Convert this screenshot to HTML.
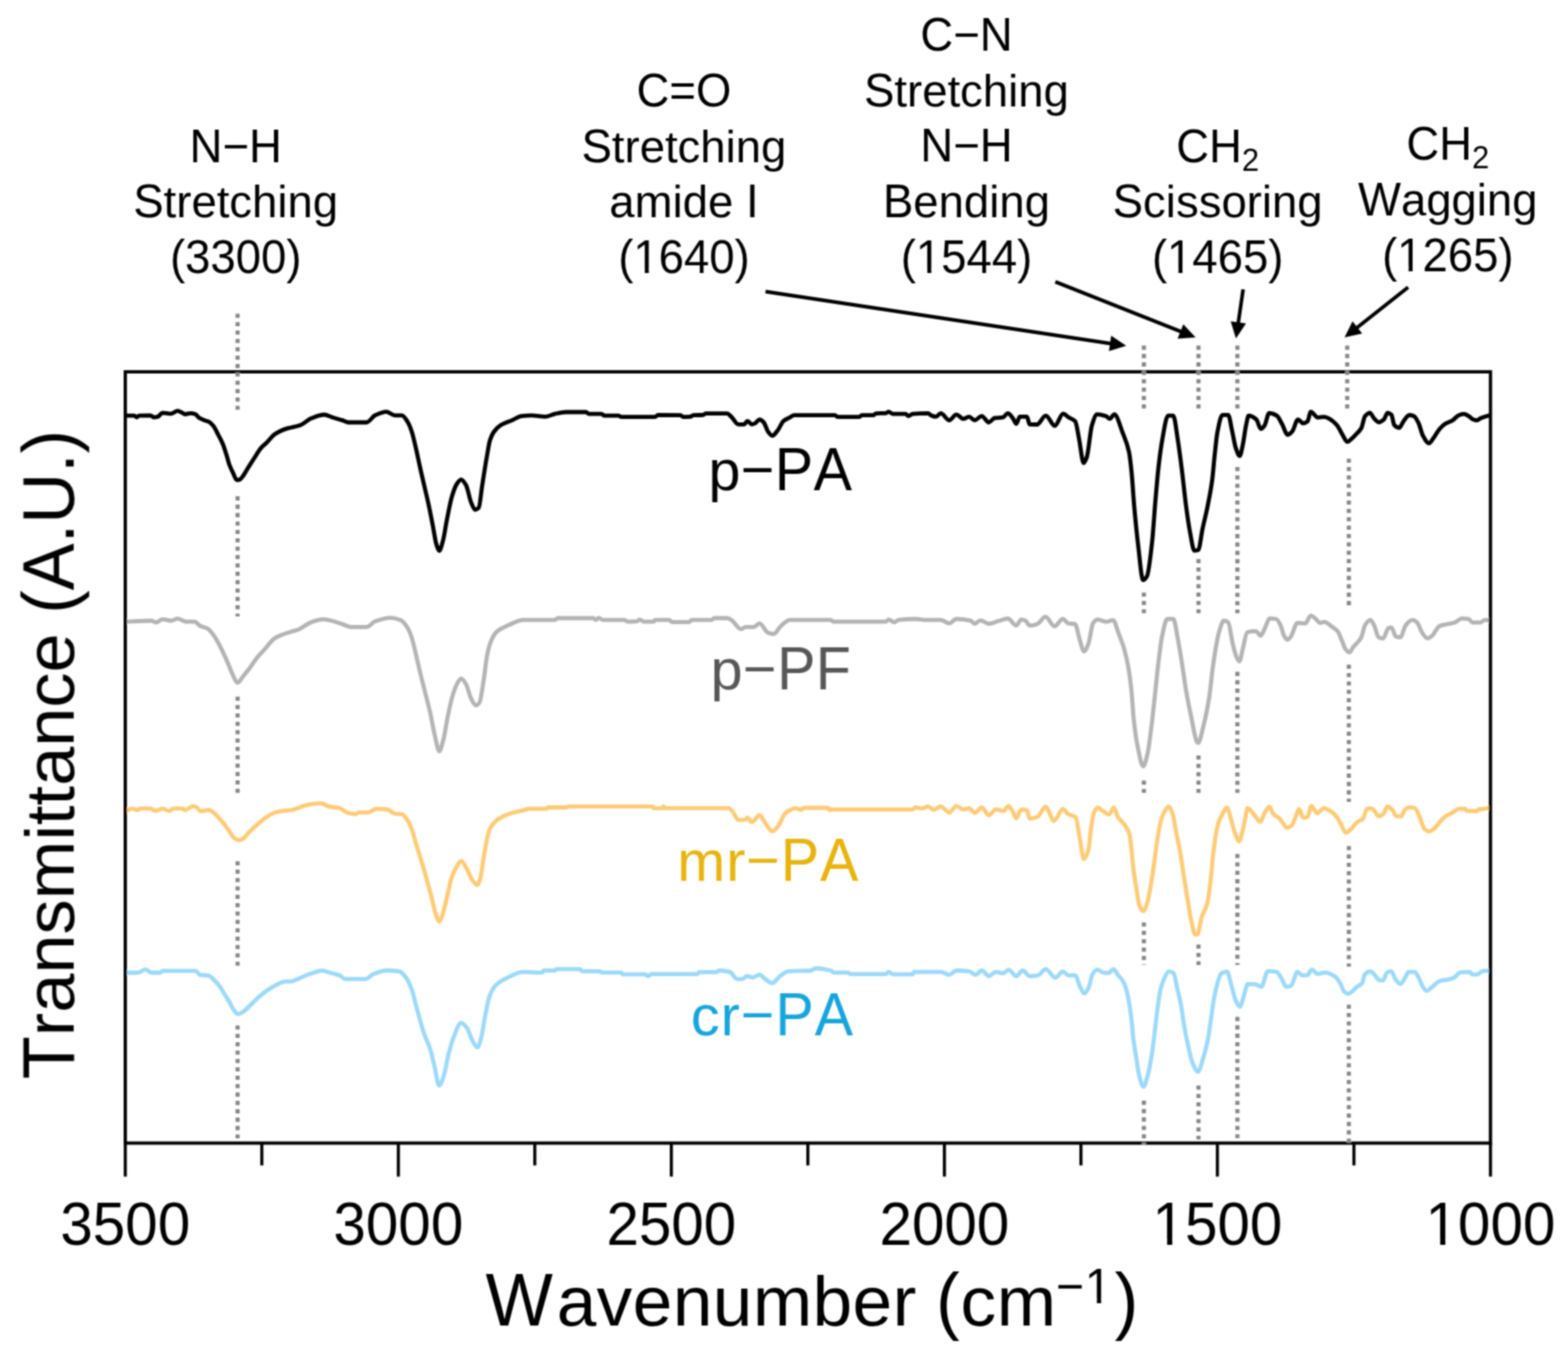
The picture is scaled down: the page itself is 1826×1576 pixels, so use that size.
<!DOCTYPE html>
<html><head><meta charset="utf-8"><title>FTIR spectra</title>
<style>html,body{margin:0;padding:0;background:#fff;}body{width:1826px;height:1576px;overflow:hidden;}svg{display:block;}text{font-family:'Liberation Sans', Arial, sans-serif;font-kerning:none;font-feature-settings:"kern" 0;}</style>
</head><body>
<svg width="1826" height="1576" viewBox="0 0 1826 1576">
<defs><filter id="soft" x="0" y="0" width="100%" height="100%" filterUnits="userSpaceOnUse"><feConvolveMatrix order="5 1" kernelMatrix="1 8 16 8 1" divisor="34" edgeMode="duplicate" result="b1"/><feConvolveMatrix in="b1" order="1 5" kernelMatrix="1 8 16 8 1" divisor="34" edgeMode="duplicate"/></filter></defs>
<rect x="0" y="0" width="1826" height="1576" fill="#fff"/>
<g filter="url(#soft)">
<path d="M146.6,484.1C149.9,484.1 153.1,484.1 156.4,484.1C157.3,484.1 158.3,486.1 159.2,486.1C160.1,486.1 161.0,484.1 161.9,484.1C166.3,483.9 170.6,483.9 175.0,483.9C176.5,483.9 177.9,486.1 179.4,486.1C180.9,486.1 182.3,485.8 183.8,485.4C185.6,484.9 187.5,480.8 189.3,480.8C192.6,480.8 195.8,481.9 199.1,481.9C201.7,481.9 204.2,478.6 206.8,478.6C208.3,478.6 209.7,479.7 211.2,480.3C212.7,480.9 214.1,482.5 215.6,482.5C217.8,482.5 219.9,481.4 222.1,481.4C223.9,481.4 225.8,481.9 227.6,482.5C229.1,483.0 230.5,485.9 232.0,486.8C234.2,488.2 236.4,489.0 238.6,489.8C240.1,490.3 241.5,490.5 243.0,491.2C244.8,492.0 246.6,493.9 248.4,496.1C250.2,498.3 252.1,502.5 253.9,506.0C255.7,509.5 257.6,512.6 259.4,517.0C260.9,520.5 262.3,525.4 263.8,530.1C264.9,533.5 265.9,538.1 267.0,541.0C268.5,545.0 269.9,547.9 271.4,550.9C272.9,553.9 274.3,559.1 275.8,559.1C276.9,559.1 278.0,558.9 279.1,558.6C280.2,558.3 281.3,556.6 282.4,555.3C284.2,553.1 286.1,549.4 287.9,546.5C290.4,542.5 293.0,538.4 295.5,534.5C298.4,530.0 301.4,524.6 304.3,521.3C306.5,518.8 308.7,517.5 310.9,515.3C313.8,512.5 316.7,508.1 319.6,506.0C321.8,504.4 324.0,503.2 326.2,502.2C329.1,500.9 332.1,499.8 335.0,498.9C339.9,497.4 344.8,497.0 349.7,495.3C354.1,493.7 358.5,488.8 362.9,487.1C367.8,485.2 372.7,483.0 377.6,483.0C380.9,483.0 384.2,485.3 387.5,486.3C391.3,487.5 395.2,488.4 399.0,489.6C401.2,490.3 403.4,492.0 405.6,492.0C412.7,492.0 419.8,492.0 426.9,492.0C430.2,492.0 433.5,485.3 436.8,483.8C441.2,481.8 445.5,479.7 449.9,479.7C453.2,479.7 456.5,483.8 459.8,483.8C462.5,483.8 465.3,483.8 468.0,483.8C470.2,483.8 472.4,487.8 474.6,491.2C476.2,493.7 477.9,497.9 479.5,502.7C481.1,507.5 482.8,515.4 484.4,522.4C486.1,529.5 487.7,537.9 489.4,545.4C491.0,552.7 492.7,559.7 494.3,566.8C495.9,573.9 497.6,580.5 499.2,588.1C500.8,595.7 502.5,604.4 504.1,612.8C505.5,619.8 506.8,629.9 508.2,634.1C509.3,637.5 510.4,641.5 511.5,641.5C512.9,641.5 514.2,635.6 515.6,630.9C517.3,625.2 518.9,612.8 520.6,604.6C522.5,595.2 524.4,584.5 526.3,578.3C528.2,571.9 530.2,566.2 532.1,563.5C533.7,561.2 535.4,558.6 537.0,558.6C538.9,558.6 540.8,561.9 542.7,565.1C544.6,568.4 546.6,580.3 548.5,584.9C550.1,588.8 551.8,593.9 553.4,593.9C554.8,593.9 556.1,592.9 557.5,591.4C558.9,589.9 560.2,573.7 561.6,565.1C563.3,554.6 564.9,543.3 566.6,533.9C568.0,526.2 569.3,516.9 570.7,512.6C572.1,508.3 573.4,505.5 574.8,503.5C577.5,499.6 580.3,497.0 583.0,495.3C587.4,492.6 591.7,491.5 596.1,489.6C599.9,487.9 603.8,485.1 607.6,484.6C611.4,484.1 615.3,483.8 619.1,483.8C624.3,483.8 629.6,485.4 634.8,485.4C638.6,485.4 642.5,482.9 646.3,482.1C650.7,481.2 655.0,480.0 659.4,480.0C667.1,480.0 674.7,480.0 682.4,480.0C683.5,480.0 684.6,482.1 685.7,482.1C690.6,482.1 695.6,482.1 700.5,482.1C701.6,482.1 702.7,484.1 703.8,484.1C709.3,484.1 714.7,484.1 720.2,484.1C721.3,484.1 722.4,485.7 723.5,485.7C736.6,485.7 749.8,485.7 762.9,485.7C764.0,485.7 765.1,483.3 766.2,483.3C775.0,483.3 783.7,483.4 792.5,483.7C793.6,483.7 794.7,485.7 795.8,485.7C798.5,485.7 801.3,485.6 804.0,485.4C805.1,485.3 806.2,483.8 807.3,483.7C811.1,483.4 815.0,483.6 818.8,483.3C819.9,483.2 821.0,481.6 822.1,481.6C830.3,481.6 838.5,481.6 846.7,481.6C848.3,481.6 850.0,483.9 851.6,485.4C854.4,487.9 857.1,494.4 859.9,494.4C862.1,494.4 864.2,494.4 866.4,494.4C867.8,494.4 869.1,490.3 870.5,490.3C872.2,490.3 873.8,494.4 875.5,494.4C876.9,494.4 878.2,493.5 879.6,492.8C881.2,491.9 882.9,488.7 884.5,488.7C886.1,488.7 887.8,490.3 889.4,492.0C891.0,493.7 892.7,500.4 894.3,502.6C896.0,504.9 897.6,507.6 899.3,507.6C901.5,507.6 903.7,503.7 905.9,501.0C908.1,498.3 910.2,492.1 912.4,490.3C914.9,488.2 917.4,487.5 919.9,486.2C921.5,485.3 923.2,483.7 924.8,483.7C940.7,483.7 956.5,483.7 972.4,483.7C973.5,483.7 974.6,485.7 975.7,485.7C983.9,485.7 992.2,485.7 1000.4,485.7C1001.5,485.7 1002.5,483.7 1003.6,483.7C1008.0,483.7 1012.4,483.7 1016.8,483.7C1017.9,483.7 1019.0,481.7 1020.1,481.6C1023.9,481.4 1027.8,481.5 1031.6,481.3C1032.7,481.2 1033.8,479.6 1034.9,479.6C1036.5,479.6 1038.2,482.1 1039.8,482.1C1044.7,482.1 1049.7,482.1 1054.6,482.1C1055.7,482.1 1056.8,484.6 1057.9,484.6C1059.5,484.6 1061.2,482.3 1062.8,482.1C1068.8,481.5 1074.9,481.3 1080.9,481.3C1082.0,481.3 1083.0,483.2 1084.1,483.7C1086.0,484.6 1088.0,485.4 1089.9,485.4C1091.8,485.4 1093.7,481.3 1095.6,481.3C1098.9,481.3 1102.2,489.5 1105.5,489.5C1108.2,489.5 1111.0,482.9 1113.7,482.9C1116.4,482.9 1119.2,487.9 1121.9,487.9C1124.1,487.9 1126.3,485.4 1128.5,485.4C1130.7,485.4 1132.9,489.5 1135.1,489.5C1137.8,489.5 1140.6,484.6 1143.3,484.6C1146.0,484.6 1148.8,492.0 1151.5,492.0C1153.7,492.0 1155.9,487.3 1158.1,487.0C1161.4,486.5 1164.6,486.7 1167.9,486.2C1169.8,485.9 1171.8,481.3 1173.7,481.3C1175.6,481.3 1177.5,484.6 1179.4,487.0C1180.8,488.7 1182.1,493.6 1183.5,493.6C1184.9,493.6 1186.2,485.4 1187.6,485.4C1190.4,485.4 1193.1,485.4 1195.9,485.4C1197.0,485.4 1198.0,494.4 1199.1,494.4C1201.9,494.5 1204.7,494.5 1207.5,494.5C1211.0,494.5 1214.4,484.1 1217.9,484.1C1221.4,484.1 1224.8,496.0 1228.3,496.0C1231.5,496.0 1234.8,481.8 1238.0,481.8C1240.2,481.8 1242.5,484.9 1244.7,486.3C1247.2,487.9 1249.7,488.0 1252.2,490.8C1253.7,492.5 1255.2,504.3 1256.7,511.7C1258.4,520.3 1260.2,539.3 1261.9,539.3C1263.1,539.3 1264.4,535.9 1265.6,532.6C1267.6,527.2 1269.6,501.6 1271.6,495.3C1273.6,489.0 1275.6,482.6 1277.6,482.6C1281.1,482.6 1284.5,483.6 1288.0,484.8C1289.5,485.3 1291.0,487.8 1292.5,487.8C1294.2,487.8 1296.0,482.6 1297.7,482.6C1300.9,482.6 1304.2,495.8 1307.4,504.2C1309.9,510.6 1312.3,515.0 1314.8,526.6C1315.8,531.3 1316.8,540.6 1317.8,550.5C1318.8,560.4 1319.8,577.9 1320.8,589.2C1322.3,606.2 1323.8,621.5 1325.3,634.0C1327.3,650.4 1329.2,675.7 1331.2,675.7C1332.7,675.7 1334.2,673.8 1335.7,671.3C1337.7,668.0 1339.7,648.9 1341.7,631.0C1342.9,620.0 1344.2,599.1 1345.4,584.8C1346.6,570.5 1347.9,555.3 1349.1,544.5C1350.6,531.3 1352.1,519.7 1353.6,511.7C1355.8,499.7 1358.1,484.1 1360.3,484.1C1362.3,484.1 1364.3,484.1 1366.3,484.1C1368.0,484.1 1369.8,500.9 1371.5,511.7C1373.2,522.5 1375.0,536.6 1376.7,550.5C1378.2,562.5 1379.7,578.0 1381.2,589.2C1382.7,600.4 1384.2,611.2 1385.7,619.1C1387.4,628.2 1389.2,641.4 1390.9,641.4C1392.4,641.4 1393.9,641.1 1395.4,640.7C1397.1,640.2 1398.7,623.9 1400.4,616.1C1402.4,606.7 1404.4,599.3 1406.4,589.2C1408.1,580.5 1409.9,572.3 1411.6,559.4C1412.6,552.0 1413.6,538.7 1414.6,529.6C1415.6,520.5 1416.6,509.4 1417.6,504.2C1419.6,493.8 1421.6,483.3 1423.6,483.3C1425.8,483.3 1428.1,483.3 1430.3,483.3C1431.8,483.3 1433.2,494.8 1434.7,501.2C1436.2,507.7 1437.7,517.9 1439.2,522.1C1440.7,526.3 1442.2,531.1 1443.7,531.1C1444.9,531.1 1446.2,523.2 1447.4,517.6C1448.6,512.0 1449.9,500.9 1451.1,495.3C1452.1,490.7 1453.1,484.1 1454.1,484.1C1457.1,484.1 1460.1,486.0 1463.1,488.6C1464.8,490.1 1466.6,499.7 1468.3,499.7C1469.8,499.7 1471.3,497.4 1472.8,495.3C1474.5,492.8 1476.3,481.1 1478.0,481.1C1481.0,481.1 1483.9,482.4 1486.9,484.1C1488.9,485.3 1490.9,490.3 1492.9,493.8C1495.1,497.7 1497.4,506.5 1499.6,506.5C1501.3,506.5 1503.1,504.5 1504.8,502.7C1507.1,500.3 1509.3,488.6 1511.6,488.6C1513.6,488.6 1515.5,493.0 1517.5,493.0C1519.2,493.0 1521.0,492.1 1522.7,490.8C1524.0,489.8 1525.2,479.6 1526.5,479.6C1529.2,479.6 1532.0,486.3 1534.7,486.3C1537.2,486.3 1539.6,485.6 1542.1,485.6C1544.1,485.6 1546.1,486.8 1548.1,487.8C1551.1,489.3 1554.0,491.9 1557.0,495.3C1559.0,497.6 1561.0,502.5 1563.0,505.7C1565.0,508.9 1567.0,514.7 1569.0,514.7C1570.5,514.7 1571.9,512.9 1573.4,511.7C1575.6,509.9 1577.8,507.4 1580.0,505.0C1581.8,503.1 1583.5,501.9 1585.3,498.8C1586.7,496.3 1588.2,486.5 1589.6,484.8C1591.5,482.6 1593.4,480.9 1595.3,480.9C1596.9,480.9 1598.6,485.8 1600.2,487.4C1602.1,489.3 1604.0,491.8 1605.9,491.8C1607.8,491.8 1609.7,490.3 1611.6,488.7C1613.0,487.5 1614.5,480.9 1615.9,480.9C1617.4,480.9 1618.8,481.7 1620.3,483.0C1621.5,484.0 1622.6,494.1 1623.8,495.3C1625.7,497.2 1627.6,498.4 1629.5,498.4C1631.1,498.4 1632.7,492.9 1634.3,490.9C1636.6,487.9 1639.0,483.5 1641.3,483.5C1643.1,483.5 1644.8,484.1 1646.6,484.8C1648.4,485.5 1650.1,489.2 1651.9,492.7C1653.6,496.1 1655.4,504.5 1657.1,507.6C1659.4,511.8 1661.8,516.4 1664.1,516.4C1665.9,516.4 1667.6,512.5 1669.4,510.2C1671.7,507.2 1674.1,502.4 1676.4,499.7C1678.4,497.4 1680.5,495.3 1682.5,494.0C1685.7,491.9 1689.0,491.3 1692.2,489.2C1694.2,487.9 1696.3,484.7 1698.3,483.9C1700.4,483.0 1702.4,482.2 1704.5,482.2C1706.5,482.2 1708.6,483.7 1710.6,484.8C1712.1,485.6 1713.5,487.7 1715.0,488.3C1716.5,488.9 1717.9,489.6 1719.4,489.6C1721.1,489.6 1722.9,487.7 1724.6,487.0C1727.9,485.7 1731.2,484.8 1734.5,483.7" fill="none" stroke="#000" stroke-width="4.8" stroke-linejoin="round" stroke-linecap="round"/>
<path d="M146.6,724.1C151.3,723.9 156.1,723.7 160.8,723.5C165.9,723.3 171.0,723.0 176.1,723.0C177.9,723.0 179.8,725.0 181.6,725.0C184.2,725.0 186.7,721.4 189.3,721.4C192.6,721.4 195.8,723.0 199.1,723.0C201.7,723.0 204.2,720.6 206.8,720.6C210.1,720.6 213.4,724.1 216.7,724.1C220.0,724.1 223.2,724.1 226.5,724.1C228.7,724.1 230.9,727.9 233.1,729.0C236.0,730.5 239.0,730.6 241.9,732.3C244.1,733.5 246.2,736.6 248.4,739.4C250.2,741.8 252.1,745.0 253.9,748.2C255.7,751.4 257.6,755.3 259.4,759.1C261.2,762.9 263.1,767.0 264.9,771.2C266.7,775.4 268.5,780.7 270.3,784.3C272.5,788.7 274.7,795.3 276.9,795.3C278.7,795.3 280.6,790.9 282.4,788.7C285.3,785.2 288.2,781.7 291.1,777.8C293.7,774.4 296.2,770.0 298.8,766.8C301.7,763.1 304.7,760.2 307.6,757.0C311.6,752.6 315.6,746.5 319.6,743.8C322.5,741.8 325.5,740.6 328.4,739.4C332.3,737.8 336.1,736.7 340.0,735.5C342.1,734.9 344.3,734.5 346.4,733.7C351.9,731.7 357.4,726.4 362.9,724.6C367.3,723.1 371.6,721.4 376.0,721.4C379.3,721.4 382.6,722.3 385.9,723.0C390.3,723.9 394.6,725.7 399.0,727.1C402.3,728.2 405.6,730.4 408.9,730.4C414.9,730.4 420.9,730.4 426.9,730.4C430.2,730.4 433.5,725.0 436.8,723.8C442.8,721.7 448.9,719.7 454.9,719.7C458.7,719.7 462.6,720.8 466.4,722.2C469.1,723.2 471.9,727.0 474.6,731.2C476.2,733.7 477.9,737.9 479.5,742.7C481.1,747.5 482.8,755.6 484.4,762.4C486.1,769.3 487.7,776.9 489.4,783.8C491.0,790.6 492.7,797.0 494.3,803.5C496.5,812.3 498.7,820.1 500.9,829.8C502.8,838.2 504.7,849.9 506.6,857.7C508.2,864.4 509.9,875.0 511.5,875.0C513.2,875.0 514.8,867.1 516.5,861.0C518.1,855.0 519.8,842.5 521.4,834.7C523.3,825.6 525.2,816.3 527.1,810.1C528.8,804.7 530.4,799.8 532.1,796.9C533.7,794.0 535.4,790.4 537.0,790.4C538.9,790.4 540.8,793.8 542.7,796.9C544.6,800.0 546.6,809.7 548.5,813.4C550.4,817.0 552.3,821.6 554.2,821.6C555.6,821.6 557.0,820.2 558.4,818.3C560.0,816.1 561.7,802.1 563.3,792.0C564.7,783.5 566.0,769.0 567.4,762.4C568.8,755.8 570.1,750.9 571.5,747.6C573.7,742.3 575.9,738.1 578.1,736.1C583.0,731.7 588.0,730.0 592.9,727.9C598.4,725.6 603.8,722.2 609.3,722.2C616.2,722.2 623.1,722.2 630.0,722.2C635.4,722.2 640.9,722.2 646.3,722.1C647.4,722.1 648.5,720.0 649.6,720.0C663.3,720.0 676.9,720.0 690.6,720.0C691.7,720.0 692.8,722.1 693.9,722.1C695.0,722.1 696.1,719.6 697.2,719.6C698.8,719.6 700.5,722.1 702.1,722.1C710.3,722.1 718.6,722.1 726.8,722.1C728.4,722.1 730.1,724.2 731.7,724.2C735.0,724.2 738.3,724.1 741.6,723.7C742.7,723.6 743.8,721.6 744.9,721.6C746.5,721.6 748.2,724.2 749.8,724.2C753.6,724.2 757.5,724.2 761.3,724.2C761.8,724.2 762.4,722.1 762.9,722.1C768.4,722.1 773.9,722.1 779.4,722.1C780.5,722.1 781.5,724.6 782.6,724.6C789.2,724.6 795.8,724.6 802.4,724.6C803.5,724.6 804.5,722.1 805.6,722.1C813.3,722.1 820.9,722.1 828.6,722.1C829.7,722.1 830.8,720.0 831.9,720.0C836.8,720.0 841.8,720.0 846.7,720.0C848.3,720.0 850.0,721.2 851.6,722.1C855.4,724.2 859.3,732.8 863.1,732.8C864.8,732.8 866.4,730.3 868.1,730.3C871.4,730.3 874.6,730.3 877.9,730.3C880.1,730.3 882.3,726.2 884.5,726.2C887.8,726.2 891.0,735.7 894.3,736.9C896.5,737.7 898.7,738.5 900.9,738.5C903.6,738.5 906.4,731.8 909.1,729.5C912.7,726.4 916.3,722.1 919.9,722.1C935.8,722.1 951.6,722.1 967.5,722.1C968.6,722.1 969.7,724.2 970.8,724.2C991.1,724.2 1011.3,724.2 1031.6,724.2C1032.7,724.2 1033.8,721.6 1034.9,721.6C1037.1,721.6 1039.2,724.9 1041.4,724.9C1043.1,724.9 1044.7,722.3 1046.4,722.1C1053.0,721.3 1059.5,721.0 1066.1,721.0C1070.5,721.0 1074.8,722.1 1079.2,722.1C1084.7,722.1 1090.1,722.1 1095.6,722.1C1098.9,722.1 1102.2,726.2 1105.5,726.2C1108.2,726.2 1111.0,721.0 1113.7,721.0C1119.2,721.0 1124.6,721.6 1130.1,722.9C1131.8,723.3 1133.4,726.5 1135.1,726.5C1137.3,726.5 1139.4,722.6 1141.6,722.6C1144.9,722.6 1148.2,726.5 1151.5,726.5C1155.3,726.5 1159.2,724.3 1163.0,723.3C1166.6,722.3 1170.1,720.5 1173.7,720.5C1177.0,720.5 1180.2,728.7 1183.5,728.7C1185.4,728.7 1187.4,721.6 1189.3,721.6C1190.9,721.6 1192.6,722.2 1194.2,722.9C1195.8,723.6 1197.5,728.7 1199.1,728.7C1202.0,728.7 1204.9,727.9 1207.8,726.9C1211.1,725.8 1214.3,718.4 1217.6,718.4C1221.1,718.4 1224.5,729.5 1228.0,729.5C1231.2,729.5 1234.5,721.0 1237.7,721.0C1239.9,721.0 1242.0,725.8 1244.2,726.2C1246.8,726.6 1249.4,726.4 1252.0,726.9C1253.7,727.2 1255.5,739.2 1257.2,744.4C1258.9,749.6 1260.7,758.7 1262.4,758.7C1264.1,758.7 1265.9,754.0 1267.6,749.6C1269.3,745.2 1271.1,728.7 1272.8,726.2C1274.5,723.7 1276.3,721.7 1278.0,721.7C1281.5,721.7 1284.9,724.3 1288.4,724.3C1291.0,724.3 1293.6,722.3 1296.2,722.3C1298.4,722.3 1300.5,732.3 1302.7,737.9C1304.9,743.5 1307.0,748.6 1309.2,756.1C1310.9,762.1 1312.7,769.4 1314.4,779.5C1315.5,785.9 1316.6,794.8 1317.7,805.5C1318.6,814.0 1319.4,830.1 1320.3,838.0C1321.8,851.8 1323.3,862.0 1324.8,869.3C1327.0,879.8 1329.1,892.7 1331.3,892.7C1333.0,892.7 1334.8,884.5 1336.5,877.1C1338.0,870.6 1339.6,856.7 1341.1,844.5C1342.4,834.2 1343.7,821.3 1345.0,809.4C1346.3,797.5 1347.6,783.6 1348.9,773.0C1350.4,760.7 1351.9,747.4 1353.4,740.5C1355.4,731.4 1357.3,721.0 1359.3,721.0C1361.7,721.0 1364.0,721.0 1366.4,721.0C1368.2,721.0 1369.9,735.4 1371.7,744.4C1373.4,753.2 1375.2,764.7 1376.9,775.6C1378.4,785.1 1379.9,796.8 1381.4,805.5C1383.4,816.9 1385.3,826.1 1387.3,835.4C1389.5,845.6 1391.6,860.9 1393.8,864.0C1394.3,864.7 1394.7,865.4 1395.2,865.4C1397.4,865.4 1399.5,853.0 1401.7,844.5C1403.9,836.0 1406.0,825.8 1408.2,812.0C1409.5,803.7 1410.8,789.1 1412.1,779.5C1413.4,769.9 1414.7,760.6 1416.0,753.5C1417.3,746.4 1418.6,739.4 1419.9,735.3C1421.6,729.8 1423.4,723.0 1425.1,723.0C1426.8,723.0 1428.6,723.7 1430.3,724.9C1432.0,726.1 1433.8,742.5 1435.5,749.6C1436.8,754.9 1438.1,760.9 1439.4,763.9C1440.7,766.9 1442.0,770.4 1443.3,770.4C1444.6,770.4 1445.9,760.9 1447.2,756.1C1448.9,749.7 1450.7,737.4 1452.4,736.6C1454.1,735.8 1455.9,735.3 1457.6,735.3C1459.3,735.3 1461.1,735.3 1462.8,735.3C1464.5,735.3 1466.3,740.5 1468.0,740.5C1469.7,740.5 1471.5,734.7 1473.2,731.4C1474.9,728.1 1476.7,720.4 1478.4,720.4C1481.0,720.4 1483.6,720.6 1486.2,721.0C1487.9,721.3 1489.7,725.3 1491.4,728.8C1492.7,731.4 1494.0,738.3 1495.3,740.5C1496.6,742.7 1497.9,745.1 1499.2,745.1C1500.5,745.1 1501.8,743.3 1503.1,741.8C1505.7,738.8 1508.3,725.6 1510.9,725.6C1513.9,725.6 1517.0,726.2 1520.0,726.2C1522.2,726.2 1524.3,717.1 1526.5,717.1C1528.7,717.1 1530.8,719.9 1533.0,721.7C1534.3,722.8 1535.6,725.6 1536.9,725.6C1538.6,725.6 1540.4,724.3 1542.1,724.3C1545.1,724.3 1548.2,727.9 1551.2,730.1C1553.4,731.6 1555.5,732.7 1557.7,735.3C1559.5,737.4 1561.2,743.0 1563.0,747.0C1564.3,750.0 1565.6,754.4 1566.9,756.1C1568.4,758.0 1569.9,760.0 1571.4,760.0C1572.9,760.0 1574.5,755.3 1576.0,753.5C1577.3,751.9 1578.7,750.9 1580.0,749.3C1581.8,747.2 1583.5,745.7 1585.3,742.3C1586.7,739.6 1588.2,730.5 1589.6,728.3C1591.7,725.1 1593.7,722.2 1595.8,722.2C1597.3,722.2 1598.7,725.6 1600.2,728.3C1601.9,731.4 1603.7,741.5 1605.4,742.3C1607.2,743.1 1608.9,743.6 1610.7,743.6C1612.7,743.6 1614.8,732.7 1616.8,731.8C1618.0,731.3 1619.1,730.9 1620.3,730.9C1622.1,730.9 1623.8,741.0 1625.6,741.5C1627.3,742.0 1629.1,742.3 1630.8,742.3C1632.9,742.3 1634.9,730.7 1637.0,728.3C1639.6,725.2 1642.3,722.2 1644.9,722.2C1646.6,722.2 1648.4,723.4 1650.1,724.8C1652.1,726.4 1654.2,734.3 1656.2,737.1C1658.3,740.0 1660.3,743.6 1662.4,743.6C1664.1,743.6 1665.9,741.9 1667.6,740.6C1670.5,738.3 1673.5,730.4 1676.4,729.2C1679.3,728.0 1682.3,727.7 1685.2,727.0C1688.1,726.3 1691.0,726.1 1693.9,725.2C1696.8,724.3 1699.8,720.4 1702.7,720.4C1705.0,720.4 1707.4,720.6 1709.7,720.9C1711.5,721.1 1713.2,725.2 1715.0,725.2C1717.9,725.2 1720.8,725.2 1723.7,725.2C1725.5,725.2 1727.2,722.2 1729.0,722.2C1730.8,722.2 1732.7,722.5 1734.5,722.6" fill="none" stroke="#b4b4b4" stroke-width="4.8" stroke-linejoin="round" stroke-linecap="round"/>
<path d="M146.6,944.6C149.1,943.7 151.7,941.9 154.2,941.9C156.0,941.9 157.9,943.5 159.7,943.5C161.2,943.5 162.6,941.7 164.1,941.7C168.1,941.7 172.1,941.7 176.1,941.9C177.6,942.0 179.0,944.6 180.5,944.6C183.4,944.6 186.4,941.9 189.3,941.9C191.9,941.9 194.4,944.6 197.0,944.6C198.8,944.6 200.6,941.7 202.4,941.7C205.7,941.7 209.0,941.7 212.3,941.9C213.4,942.0 214.5,943.5 215.6,943.5C218.5,943.5 221.4,939.2 224.3,939.2C225.8,939.2 227.2,939.7 228.7,940.3C230.2,940.9 231.6,944.6 233.1,944.6C236.4,944.6 239.7,943.5 243.0,943.5C244.8,943.5 246.6,945.1 248.4,946.3C250.6,947.8 252.8,950.5 255.0,952.9C257.2,955.3 259.4,957.7 261.6,960.5C263.4,962.8 265.2,965.7 267.0,968.2C268.8,970.8 270.7,974.6 272.5,975.9C274.3,977.2 276.2,978.6 278.0,978.6C279.5,978.6 280.9,978.1 282.4,977.5C284.6,976.6 286.8,972.6 289.0,970.4C292.3,967.1 295.5,964.0 298.8,961.1C302.1,958.2 305.4,955.1 308.7,952.9C312.7,950.2 316.7,947.5 320.7,946.3C323.3,945.5 325.8,944.9 328.4,944.6C332.3,944.1 336.1,944.1 340.0,943.5C342.1,943.2 344.3,942.1 346.4,941.4C350.8,940.0 355.2,938.0 359.6,937.2C364.0,936.4 368.3,935.6 372.7,935.6C376.5,935.6 380.4,938.9 384.2,939.7C388.0,940.5 391.9,940.5 395.7,941.4C398.4,942.1 401.2,945.5 403.9,946.3C407.2,947.3 410.5,948.3 413.8,948.3C415.4,948.3 417.1,946.3 418.7,946.3C422.0,946.3 425.3,946.3 428.6,946.3C431.9,946.3 435.1,942.2 438.4,942.2C442.8,942.2 447.2,942.5 451.6,943.0C454.3,943.3 457.1,947.7 459.8,947.9C462.5,948.1 465.3,948.0 468.0,948.3C470.2,948.5 472.4,952.1 474.6,955.3C476.2,957.7 477.9,961.7 479.5,966.0C481.1,970.3 482.8,977.0 484.4,982.4C486.6,989.7 488.8,996.4 491.0,1003.8C493.2,1011.2 495.4,1018.9 497.6,1026.8C499.2,1032.7 500.9,1038.6 502.5,1044.9C504.1,1051.2 505.8,1060.0 507.4,1064.6C508.8,1068.4 510.1,1073.6 511.5,1073.6C512.9,1073.6 514.2,1068.4 515.6,1064.6C517.3,1059.9 518.9,1051.8 520.6,1044.9C522.2,1038.1 523.9,1028.5 525.5,1023.5C527.1,1018.5 528.8,1014.9 530.4,1012.0C532.6,1008.2 534.8,1003.0 537.0,1003.0C539.2,1003.0 541.4,1008.4 543.6,1012.0C545.8,1015.5 547.9,1022.2 550.1,1025.1C552.0,1027.7 554.0,1030.9 555.9,1030.9C557.0,1030.9 558.1,1027.0 559.2,1023.5C560.6,1019.1 561.9,1006.7 563.3,998.9C564.9,989.6 566.6,978.4 568.2,972.6C569.3,968.7 570.4,965.3 571.5,963.5C574.2,958.9 577.0,956.4 579.7,954.5C584.1,951.4 588.5,949.4 592.9,947.9C598.4,946.1 603.8,945.1 609.3,943.8C611.5,943.3 613.7,942.2 615.9,942.2C622.7,942.1 629.6,942.2 636.4,942.1C637.0,942.1 637.5,940.5 638.1,940.5C645.2,940.5 652.3,940.5 659.4,940.5C660.5,940.5 661.6,939.3 662.7,939.3C695.0,939.3 727.3,939.3 759.6,939.3C760.2,939.3 760.7,941.3 761.3,941.3C764.6,941.3 767.8,941.3 771.1,941.3C771.7,941.3 772.2,939.3 772.8,939.3C773.3,939.3 773.9,941.3 774.4,941.3C799.1,941.3 823.7,941.3 848.4,941.3C850.0,941.3 851.7,943.7 853.3,945.4C855.5,947.7 857.7,955.2 859.9,955.2C862.1,955.2 864.2,955.2 866.4,955.2C867.8,955.2 869.1,952.5 870.5,952.5C872.2,952.5 873.8,957.7 875.5,957.7C878.5,957.7 881.5,949.5 884.5,949.5C886.7,949.5 888.9,955.7 891.1,958.5C893.8,962.0 896.6,968.4 899.3,968.4C901.5,968.4 903.7,965.2 905.9,962.6C908.6,959.4 911.4,950.8 914.1,947.9C915.5,946.4 916.8,945.4 918.2,944.6C920.9,943.1 923.7,941.3 926.4,941.3C928.6,941.3 930.8,943.3 933.0,943.3C934.1,943.3 935.2,941.0 936.3,941.0C945.6,941.0 954.9,941.0 964.2,941.0C964.8,941.0 965.3,943.3 965.9,943.3C967.0,943.3 968.0,942.9 969.1,942.9C1000.3,942.9 1031.6,942.9 1062.8,942.9C1063.9,942.9 1065.0,940.5 1066.1,940.5C1068.8,940.5 1071.6,941.6 1074.3,941.6C1076.5,941.6 1078.7,939.3 1080.9,939.3C1083.1,939.3 1085.2,943.3 1087.4,943.3C1090.1,943.3 1092.9,939.3 1095.6,939.3C1098.9,939.3 1102.2,946.5 1105.5,946.5C1108.2,946.5 1111.0,938.8 1113.7,938.8C1116.4,938.8 1119.2,942.9 1121.9,942.9C1124.1,942.9 1126.3,941.3 1128.5,941.3C1130.7,941.3 1132.9,947.0 1135.1,947.0C1137.8,947.0 1140.6,940.5 1143.3,940.5C1146.0,940.5 1148.8,949.5 1151.5,949.5C1154.2,949.5 1157.0,942.9 1159.7,942.9C1162.7,942.9 1165.7,944.6 1168.7,944.6C1170.6,944.6 1172.6,938.8 1174.5,938.8C1176.1,938.8 1177.8,942.8 1179.4,945.4C1180.8,947.6 1182.1,953.1 1183.5,953.1C1185.4,953.1 1187.4,942.9 1189.3,942.9C1191.5,942.9 1193.7,943.1 1195.9,943.7C1197.0,944.0 1198.0,953.6 1199.1,953.6C1202.1,953.6 1205.0,952.7 1208.0,951.6C1211.2,950.4 1214.5,939.6 1217.7,939.6C1220.9,939.6 1224.2,956.1 1227.4,956.1C1230.8,956.1 1234.3,942.4 1237.7,942.4C1240.0,942.4 1242.2,947.5 1244.5,948.7C1247.2,950.1 1249.8,949.6 1252.5,951.6C1254.0,952.7 1255.6,966.7 1257.1,974.4C1258.8,983.1 1260.6,1000.7 1262.3,1000.7C1264.0,1000.7 1265.7,996.1 1267.4,990.4C1268.5,986.6 1269.7,970.0 1270.8,963.0C1271.9,956.0 1273.1,947.9 1274.2,945.8C1275.7,942.9 1277.3,940.7 1278.8,940.7C1280.7,940.7 1282.6,943.5 1284.5,944.7C1286.8,946.2 1289.1,948.7 1291.4,948.7C1293.3,948.7 1295.2,940.7 1297.1,940.7C1298.6,940.7 1300.2,949.2 1301.7,951.6C1304.4,955.8 1307.0,956.8 1309.7,960.7C1311.6,963.5 1313.5,965.5 1315.4,972.1C1316.1,974.7 1316.9,982.8 1317.6,989.2C1318.4,995.9 1319.1,1006.0 1319.9,1012.1C1321.1,1021.4 1322.2,1027.8 1323.4,1034.9C1324.5,1041.8 1325.7,1051.5 1326.8,1054.3C1328.3,1058.1 1329.9,1061.2 1331.4,1061.2C1332.9,1061.2 1334.4,1056.4 1335.9,1052.1C1337.4,1047.7 1339.0,1038.0 1340.5,1029.2C1341.6,1022.7 1342.8,1014.4 1343.9,1006.4C1345.0,998.4 1346.2,988.4 1347.3,981.2C1348.8,971.5 1350.4,961.3 1351.9,956.1C1353.4,950.9 1355.0,947.0 1356.5,944.7C1358.0,942.4 1359.6,939.6 1361.1,939.6C1362.6,939.6 1364.1,943.9 1365.6,948.1C1367.1,952.3 1368.7,964.3 1370.2,972.1C1371.7,979.9 1373.3,986.2 1374.8,995.0C1375.9,1001.5 1377.1,1010.5 1378.2,1017.8C1379.7,1027.7 1381.3,1037.2 1382.8,1046.4C1384.3,1055.4 1385.8,1066.1 1387.3,1072.6C1388.8,1079.3 1390.4,1088.6 1391.9,1088.6C1392.8,1088.6 1393.7,1088.6 1394.6,1088.6C1396.1,1088.6 1397.6,1074.0 1399.1,1069.2C1401.4,1061.8 1403.7,1060.9 1406.0,1052.1C1407.1,1047.8 1408.3,1038.3 1409.4,1029.2C1410.5,1020.1 1411.7,1004.5 1412.8,995.0C1414.0,985.2 1415.1,975.8 1416.3,969.8C1417.4,964.0 1418.6,959.2 1419.7,956.1C1421.2,952.0 1422.8,949.5 1424.3,947.0C1425.8,944.5 1427.3,940.7 1428.8,940.7C1430.3,940.7 1431.9,949.0 1433.4,953.8C1434.9,958.6 1436.5,965.9 1438.0,969.8C1439.7,974.2 1441.4,980.1 1443.1,980.1C1444.4,980.1 1445.8,972.5 1447.1,967.5C1448.2,963.2 1449.4,956.8 1450.5,951.6C1451.3,948.1 1452.0,941.3 1452.8,941.3C1455.5,941.3 1458.1,946.4 1460.8,949.3C1463.1,951.8 1465.4,957.3 1467.7,957.3C1469.2,957.3 1470.7,950.7 1472.2,948.1C1474.1,944.8 1476.1,939.6 1478.0,939.6C1479.9,939.6 1481.8,947.6 1483.7,949.3C1485.6,951.0 1487.5,951.1 1489.4,952.7C1490.9,953.9 1492.4,956.5 1493.9,958.4C1495.4,960.3 1497.0,964.1 1498.5,964.1C1500.4,964.1 1502.3,963.1 1504.2,961.8C1505.7,960.7 1507.3,955.1 1508.8,951.6C1510.1,948.6 1511.5,942.4 1512.8,942.4C1514.5,942.4 1516.2,952.7 1517.9,952.7C1519.4,952.7 1521.0,952.3 1522.5,951.6C1524.0,950.9 1525.6,939.0 1527.1,939.0C1529.4,939.0 1531.6,947.0 1533.9,947.0C1536.6,947.0 1539.2,941.3 1541.9,941.3C1543.8,941.3 1545.7,942.6 1547.6,943.6C1550.7,945.2 1553.7,947.9 1556.8,951.6C1558.7,953.9 1560.6,958.4 1562.5,961.8C1564.0,964.5 1565.5,969.8 1567.0,969.8C1568.9,969.8 1570.9,967.9 1572.8,966.4C1574.7,964.9 1576.6,961.3 1578.5,959.5C1580.0,958.1 1581.5,956.8 1583.0,956.0C1584.3,955.3 1585.7,955.3 1587.0,954.4C1588.5,953.4 1589.9,944.0 1591.4,943.0C1592.9,942.0 1594.3,941.3 1595.8,941.3C1597.3,941.3 1598.7,942.7 1600.2,943.9C1601.9,945.3 1603.7,950.9 1605.4,950.9C1607.2,950.9 1608.9,949.6 1610.7,948.3C1612.4,947.0 1614.2,939.5 1615.9,939.5C1617.7,939.5 1619.4,941.4 1621.2,943.0C1623.0,944.6 1624.7,950.9 1626.5,950.9C1628.2,950.9 1630.0,950.9 1631.7,950.9C1633.2,950.9 1634.6,944.2 1636.1,943.0C1637.9,941.6 1639.6,940.4 1641.4,940.4C1643.4,940.4 1645.5,940.7 1647.5,941.3C1649.2,941.8 1651.0,946.6 1652.7,950.1C1654.8,954.3 1656.8,964.1 1658.9,965.8C1660.6,967.3 1662.4,968.5 1664.1,968.5C1665.9,968.5 1667.6,967.0 1669.4,965.8C1671.7,964.2 1674.1,960.4 1676.4,957.9C1678.7,955.4 1681.1,952.6 1683.4,950.9C1686.0,949.0 1688.7,948.0 1691.3,946.6C1693.9,945.2 1696.6,942.2 1699.2,942.2C1701.5,942.2 1703.9,942.2 1706.2,942.2C1706.8,942.2 1707.4,944.3 1708.0,944.4C1712.1,944.7 1716.1,944.8 1720.2,944.8C1720.8,944.8 1721.4,942.7 1722.0,942.6C1724.3,942.3 1726.7,942.4 1729.0,942.2C1730.8,942.0 1732.7,941.3 1734.5,940.9" fill="none" stroke="#fecb76" stroke-width="4.8" stroke-linejoin="round" stroke-linecap="round"/>
<path d="M146.6,1133.0C151.3,1133.0 156.1,1133.0 160.8,1133.0C163.7,1133.0 166.7,1129.2 169.6,1129.2C171.8,1129.2 173.9,1133.0 176.1,1133.0C179.8,1133.0 183.4,1133.0 187.1,1133.0C187.8,1133.0 188.6,1130.8 189.3,1130.8C202.1,1130.8 214.8,1130.8 227.6,1130.8C229.4,1130.8 231.3,1135.5 233.1,1135.7C236.4,1136.1 239.7,1135.9 243.0,1136.3C245.2,1136.6 247.3,1139.7 249.5,1141.8C251.7,1143.9 253.9,1146.4 256.1,1149.4C257.9,1151.9 259.8,1155.2 261.6,1158.2C263.4,1161.1 265.2,1163.9 267.0,1167.0C268.8,1170.1 270.7,1174.5 272.5,1176.8C274.0,1178.7 275.4,1181.2 276.9,1181.2C278.7,1181.2 280.6,1180.0 282.4,1179.0C285.3,1177.4 288.2,1174.0 291.1,1171.3C293.7,1168.9 296.2,1166.0 298.8,1163.7C302.8,1160.1 306.9,1156.6 310.9,1153.8C314.2,1151.5 317.4,1149.4 320.7,1147.8C324.4,1146.0 328.0,1143.7 331.7,1143.4C334.5,1143.2 337.2,1143.2 340.0,1143.0C342.1,1142.8 344.3,1141.3 346.4,1140.4C351.9,1138.2 357.4,1135.5 362.9,1133.8C367.0,1132.5 371.1,1130.5 375.2,1130.5C378.2,1130.5 381.2,1132.2 384.2,1133.0C388.0,1134.1 391.9,1134.7 395.7,1136.3C397.9,1137.2 400.1,1140.4 402.3,1140.4C410.0,1140.4 417.6,1140.4 425.3,1140.4C428.6,1140.4 431.8,1135.9 435.1,1134.6C440.0,1132.7 445.0,1130.5 449.9,1130.5C454.8,1130.5 459.8,1130.8 464.7,1131.4C467.4,1131.7 470.2,1135.2 472.9,1138.7C475.1,1141.5 477.3,1146.7 479.5,1152.7C481.1,1157.2 482.8,1164.8 484.4,1170.8C486.1,1176.9 487.7,1183.1 489.4,1188.9C491.0,1194.6 492.7,1200.6 494.3,1205.3C496.5,1211.6 498.7,1214.9 500.9,1221.7C502.5,1226.8 504.2,1234.8 505.8,1241.4C507.7,1249.1 509.6,1264.4 511.5,1264.4C513.4,1264.4 515.4,1257.3 517.3,1251.3C518.9,1246.3 520.6,1234.6 522.2,1228.3C524.4,1219.8 526.6,1212.2 528.8,1206.9C531.5,1200.3 534.3,1191.3 537.0,1191.3C539.2,1191.3 541.4,1194.3 543.6,1197.1C545.8,1199.9 547.9,1208.1 550.1,1211.9C552.0,1215.3 554.0,1220.1 555.9,1220.1C557.3,1220.1 558.6,1214.7 560.0,1210.2C561.6,1204.8 563.3,1192.0 564.9,1183.9C566.6,1175.6 568.2,1165.5 569.9,1160.9C572.1,1155.0 574.2,1150.9 576.4,1148.6C581.9,1142.9 587.4,1140.4 592.9,1137.9C598.4,1135.4 603.8,1132.2 609.3,1132.2C616.7,1132.2 624.1,1132.9 631.5,1132.9C632.0,1132.9 632.6,1130.5 633.1,1130.5C637.5,1130.5 641.9,1130.5 646.3,1130.5C646.8,1130.5 647.4,1128.8 647.9,1128.8C657.2,1128.8 666.6,1128.8 675.9,1128.8C676.4,1128.8 677.0,1131.3 677.5,1131.3C684.6,1131.3 691.8,1131.3 698.9,1131.3C699.4,1131.3 700.0,1132.9 700.5,1132.9C708.2,1132.9 715.8,1132.9 723.5,1132.9C724.0,1132.9 724.6,1134.9 725.1,1134.9C733.9,1134.9 742.6,1134.9 751.4,1134.9C752.5,1134.9 753.6,1137.0 754.7,1137.0C755.8,1137.0 756.9,1134.6 758.0,1134.6C776.1,1134.6 794.1,1134.6 812.2,1134.6C812.8,1134.6 813.3,1132.4 813.9,1132.4C820.5,1132.4 827.0,1132.4 833.6,1132.4C835.2,1132.4 836.9,1130.5 838.5,1130.5C842.3,1130.5 846.2,1131.1 850.0,1132.1C852.7,1132.8 855.5,1140.3 858.2,1140.3C860.4,1140.3 862.6,1140.3 864.8,1140.3C866.4,1140.3 868.1,1137.0 869.7,1137.0C871.9,1137.0 874.1,1138.7 876.3,1138.7C879.0,1138.7 881.8,1135.4 884.5,1135.4C886.7,1135.4 888.9,1138.8 891.1,1140.3C893.8,1142.1 896.6,1145.2 899.3,1145.2C902.0,1145.2 904.8,1139.9 907.5,1137.9C911.1,1135.3 914.6,1131.5 918.2,1131.3C927.0,1130.7 935.7,1131.1 944.5,1130.5C946.1,1130.4 947.8,1128.0 949.4,1128.0C955.4,1128.0 961.5,1128.8 967.5,1130.5C968.6,1130.8 969.7,1132.9 970.8,1132.9C976.3,1132.9 981.7,1132.9 987.2,1132.9C988.3,1132.9 989.4,1134.6 990.5,1134.6C1004.2,1134.6 1017.9,1134.6 1031.6,1134.6C1032.7,1134.6 1033.8,1132.1 1034.9,1132.1C1036.5,1132.1 1038.2,1134.9 1039.8,1134.9C1047.5,1134.9 1055.1,1134.9 1062.8,1134.9C1063.3,1134.9 1063.9,1132.1 1064.4,1132.1C1074.8,1132.1 1085.2,1132.1 1095.6,1132.1C1098.9,1132.1 1102.2,1135.4 1105.5,1135.4C1108.2,1135.4 1111.0,1130.5 1113.7,1130.5C1118.6,1130.5 1123.6,1130.8 1128.5,1131.3C1131.0,1131.6 1133.4,1135.4 1135.9,1135.4C1138.4,1135.4 1140.8,1130.5 1143.3,1130.5C1146.0,1130.5 1148.8,1137.0 1151.5,1137.0C1154.2,1137.0 1157.0,1132.1 1159.7,1132.1C1162.4,1132.1 1165.2,1133.7 1167.9,1133.7C1170.1,1133.7 1172.3,1129.6 1174.5,1129.6C1177.5,1129.6 1180.5,1137.0 1183.5,1137.0C1186.0,1137.0 1188.4,1130.5 1190.9,1130.5C1193.6,1130.5 1196.4,1137.0 1199.1,1137.0C1202.4,1137.0 1205.6,1136.6 1208.9,1136.1C1211.9,1135.6 1214.8,1128.9 1217.8,1128.9C1221.5,1128.9 1225.2,1138.9 1228.9,1138.9C1231.9,1138.9 1234.8,1131.7 1237.8,1131.7C1240.0,1131.7 1242.2,1136.1 1244.4,1136.1C1247.0,1136.1 1249.6,1136.1 1252.2,1136.1C1254.0,1136.1 1255.9,1145.9 1257.7,1149.4C1259.4,1152.6 1261.0,1157.2 1262.7,1157.2C1264.4,1157.2 1266.0,1153.7 1267.7,1150.5C1269.2,1147.6 1270.7,1137.4 1272.2,1135.0C1274.0,1132.1 1275.9,1129.4 1277.7,1129.4C1279.9,1129.4 1282.2,1132.5 1284.4,1132.8C1286.6,1133.1 1288.9,1133.3 1291.1,1133.3C1292.9,1133.3 1294.8,1128.9 1296.6,1128.9C1298.5,1128.9 1300.3,1133.8 1302.2,1136.1C1304.0,1138.4 1305.9,1139.7 1307.7,1142.8C1309.2,1145.4 1310.7,1149.6 1312.2,1155.0C1313.3,1158.9 1314.4,1164.9 1315.5,1171.6C1316.2,1176.1 1317.0,1181.9 1317.7,1188.3C1318.4,1194.7 1319.2,1204.6 1319.9,1210.5C1321.0,1219.6 1322.2,1225.6 1323.3,1232.7C1324.4,1239.6 1325.5,1248.6 1326.6,1252.7C1328.3,1259.0 1329.9,1265.8 1331.6,1265.8C1333.3,1265.8 1334.9,1258.5 1336.6,1252.7C1338.1,1247.6 1339.5,1239.4 1341.0,1230.5C1342.1,1223.6 1343.3,1213.9 1344.4,1204.9C1345.5,1196.2 1346.6,1185.4 1347.7,1177.2C1348.8,1169.0 1349.9,1159.9 1351.0,1155.0C1352.5,1148.3 1354.0,1143.7 1355.5,1140.5C1357.3,1136.5 1359.2,1131.7 1361.0,1131.7C1362.9,1131.7 1364.7,1132.3 1366.6,1133.3C1368.1,1134.1 1369.5,1145.3 1371.0,1151.6C1372.5,1158.0 1374.0,1163.5 1375.5,1171.6C1376.6,1177.6 1377.7,1187.4 1378.8,1193.8C1380.3,1202.3 1381.7,1209.4 1383.2,1216.0C1385.1,1224.3 1386.9,1234.1 1388.8,1238.3C1390.9,1243.1 1393.1,1248.3 1395.2,1248.3C1397.2,1248.3 1399.1,1238.9 1401.1,1232.7C1403.0,1226.8 1404.8,1220.0 1406.7,1210.5C1407.8,1204.9 1408.9,1195.7 1410.0,1188.3C1411.1,1180.9 1412.2,1172.4 1413.3,1166.1C1414.4,1159.7 1415.6,1153.5 1416.7,1149.4C1418.5,1142.7 1420.4,1135.0 1422.2,1133.9C1424.4,1132.6 1426.7,1131.7 1428.9,1131.7C1430.7,1131.7 1432.6,1143.3 1434.4,1149.4C1435.9,1154.4 1437.4,1161.8 1438.9,1165.0C1440.6,1168.6 1442.2,1172.7 1443.9,1172.7C1445.2,1172.7 1446.4,1166.2 1447.7,1162.7C1449.6,1157.5 1451.4,1146.1 1453.3,1146.1C1456.3,1146.1 1459.2,1146.3 1462.2,1146.6C1464.4,1146.8 1466.6,1149.4 1468.8,1149.4C1471.4,1149.4 1474.0,1131.1 1476.6,1131.1C1479.9,1131.1 1483.3,1131.5 1486.6,1132.2C1488.5,1132.6 1490.3,1136.6 1492.2,1139.4C1494.0,1142.2 1495.9,1149.4 1497.7,1149.4C1499.6,1149.4 1501.4,1148.9 1503.3,1148.3C1505.9,1147.4 1508.4,1132.2 1511.0,1132.2C1512.9,1132.2 1514.7,1136.1 1516.6,1136.1C1518.4,1136.1 1520.3,1136.1 1522.1,1136.1C1524.0,1136.1 1525.8,1129.4 1527.7,1129.4C1529.9,1129.4 1532.2,1134.4 1534.4,1134.4C1537.3,1134.4 1540.3,1132.8 1543.2,1132.8C1546.9,1132.8 1550.7,1134.8 1554.4,1137.2C1556.2,1138.4 1558.1,1141.1 1559.9,1143.9C1561.8,1146.7 1563.6,1153.3 1565.5,1155.0C1567.0,1156.3 1568.4,1157.7 1569.9,1157.7C1571.4,1157.7 1572.8,1156.1 1574.3,1155.0C1576.2,1153.6 1578.1,1151.2 1580.0,1149.7C1582.0,1148.0 1584.1,1147.8 1586.1,1145.3C1587.3,1143.9 1588.4,1136.0 1589.6,1134.8C1591.7,1132.7 1593.7,1131.3 1595.8,1131.3C1597.5,1131.3 1599.3,1134.0 1601.0,1135.7C1602.8,1137.4 1604.5,1141.8 1606.3,1141.8C1607.8,1141.8 1609.2,1141.8 1610.7,1141.8C1612.2,1141.8 1613.6,1133.8 1615.1,1133.0C1616.8,1132.0 1618.6,1131.3 1620.3,1131.3C1621.8,1131.3 1623.2,1138.1 1624.7,1140.1C1626.7,1142.9 1628.8,1146.2 1630.8,1146.2C1632.6,1146.2 1634.3,1141.8 1636.1,1139.2C1637.6,1137.1 1639.0,1132.2 1640.5,1132.2C1642.8,1132.2 1645.2,1132.2 1647.5,1132.2C1649.0,1132.2 1650.4,1135.8 1651.9,1138.3C1653.6,1141.2 1655.4,1147.3 1657.1,1149.7C1658.6,1151.7 1660.0,1154.1 1661.5,1154.1C1663.3,1154.1 1665.0,1151.9 1666.8,1150.6C1670.0,1148.3 1673.2,1143.6 1676.4,1142.7C1679.9,1141.7 1683.4,1141.7 1686.9,1140.9C1689.2,1140.3 1691.6,1139.5 1693.9,1138.3C1696.2,1137.1 1698.6,1132.8 1700.9,1132.6C1704.4,1132.3 1708.0,1132.2 1711.5,1132.2C1712.7,1132.2 1713.8,1135.2 1715.0,1135.2C1716.7,1135.2 1718.5,1135.2 1720.2,1135.2C1722.5,1135.2 1724.9,1130.9 1727.2,1130.9C1729.6,1130.9 1732.1,1130.9 1734.5,1130.9" fill="none" stroke="#9bd9f9" stroke-width="4.8" stroke-linejoin="round" stroke-linecap="round"/>
<rect x="145.9" y="433.1" width="1589.8" height="898.4" fill="none" stroke="#000" stroke-width="3.8"/>
<g stroke="#000" stroke-width="3.6"><line x1="145.9" y1="1331.5" x2="145.9" y2="1370.5"/><line x1="463.9" y1="1331.5" x2="463.9" y2="1370.5"/><line x1="781.8" y1="1331.5" x2="781.8" y2="1370.5"/><line x1="1099.8" y1="1331.5" x2="1099.8" y2="1370.5"/><line x1="1417.7" y1="1331.5" x2="1417.7" y2="1370.5"/><line x1="1735.7" y1="1331.5" x2="1735.7" y2="1370.5"/><line x1="304.9" y1="1331.5" x2="304.9" y2="1357.5"/><line x1="622.8" y1="1331.5" x2="622.8" y2="1357.5"/><line x1="940.8" y1="1331.5" x2="940.8" y2="1357.5"/><line x1="1258.8" y1="1331.5" x2="1258.8" y2="1357.5"/><line x1="1576.7" y1="1331.5" x2="1576.7" y2="1357.5"/></g>
<g stroke="#858585" stroke-width="4.8" stroke-dasharray="4.8 4.96" fill="none"><line x1="276.7" y1="365.4" x2="276.7" y2="477.3"/><line x1="276.7" y1="578.1" x2="276.7" y2="718.0"/><line x1="276.7" y1="811.4" x2="276.7" y2="923.4"/><line x1="276.7" y1="1003.2" x2="276.7" y2="1124.7"/><line x1="276.7" y1="1194.5" x2="276.7" y2="1325.9"/><line x1="1332.1" y1="402.6" x2="1332.1" y2="475.7"/><line x1="1332.1" y1="690.2" x2="1332.1" y2="714.2"/><line x1="1332.1" y1="909.2" x2="1332.1" y2="923.5"/><line x1="1332.1" y1="1074.4" x2="1332.1" y2="1124.0"/><line x1="1332.1" y1="1282.1" x2="1332.1" y2="1333.0"/><line x1="1395.7" y1="402.6" x2="1395.7" y2="475.7"/><line x1="1395.7" y1="651.2" x2="1395.7" y2="714.2"/><line x1="1395.7" y1="879.9" x2="1395.7" y2="923.5"/><line x1="1395.7" y1="1100.3" x2="1395.7" y2="1124.0"/><line x1="1395.7" y1="1264.4" x2="1395.7" y2="1327.2"/><line x1="1441.0" y1="402.6" x2="1441.0" y2="475.7"/><line x1="1441.0" y1="544.0" x2="1441.0" y2="714.2"/><line x1="1441.0" y1="782.6" x2="1441.0" y2="923.5"/><line x1="1441.0" y1="994.8" x2="1441.0" y2="1124.0"/><line x1="1441.0" y1="1184.6" x2="1441.0" y2="1325.8"/><line x1="1570.8" y1="534.2" x2="1570.8" y2="708.0"/><line x1="1570.8" y1="774.2" x2="1570.8" y2="934.0"/><line x1="1570.8" y1="985.5" x2="1570.8" y2="1126.0"/><line x1="1570.8" y1="1170.2" x2="1570.8" y2="1331.0"/><line x1="1568.9" y1="402.6" x2="1568.9" y2="475.7"/></g>
<text x="70.26" y="1449.60" font-size="68" fill="#000" transform="matrix(1 0 0 1.040 0 -57.984)">3500</text>
<text x="388.22" y="1449.60" font-size="68" fill="#000" transform="matrix(1 0 0 1.040 0 -57.984)">3000</text>
<text x="706.18" y="1449.60" font-size="68" fill="#000" transform="matrix(1 0 0 1.040 0 -57.984)">2500</text>
<text x="1024.14" y="1449.60" font-size="68" fill="#000" transform="matrix(1 0 0 1.040 0 -57.984)">2000</text>
<text x="1342.10" y="1449.60" font-size="68" fill="#000" transform="matrix(1 0 0 1.040 0 -57.984)" clip-path="url(#c1_0)">1</text><text x="1379.92" y="1449.60" font-size="68" fill="#000" transform="matrix(1 0 0 1.040 0 -57.984)">500</text>
<text x="1660.06" y="1449.60" font-size="68" fill="#000" transform="matrix(1 0 0 1.040 0 -57.984)" clip-path="url(#c1_1)">1</text><text x="1697.88" y="1449.60" font-size="68" fill="#000" transform="matrix(1 0 0 1.040 0 -57.984)">000</text>
<text x="565.50" y="1543.80" font-size="83" fill="#000" transform="matrix(1 0 0 1.040 0 -61.752)">W</text>
<text x="648.20" y="1543.80" font-size="83" fill="#000" transform="matrix(1 0 0 0.983 0 26.245)" letter-spacing="0.47">avenumber</text>
<text x="1090.00" y="1543.80" font-size="83" fill="#000" transform="matrix(1 0 0 1.040 0 -61.752)">(</text>
<text x="1118.44" y="1543.80" font-size="83" fill="#000" transform="matrix(1 0 0 0.983 0 26.245)" letter-spacing="0.80">cm</text>
<text x="1229.80" y="1517.60" font-size="56" fill="#000" transform="matrix(1 0 0 1.040 0 -60.704)">−</text>
<text x="1263.30" y="1518.00" font-size="56" fill="#000" transform="matrix(1 0 0 1.040 0 -60.720)" clip-path="url(#c1_2)">1</text>
<text x="1298.10" y="1543.80" font-size="83" fill="#000" transform="matrix(1 0 0 1.040 0 -61.752)">)</text>
<g transform="translate(85.8,1257.1) rotate(-90)"><text x="0.00" y="0.00" font-size="82" fill="#000" transform="matrix(1 0 0 1.040 0 -0.000)">T</text><text x="50.09" y="0.00" font-size="82" fill="#000" transform="matrix(1 0 0 0.983 0 0.000)">ransmittance </text><text x="542.29" y="0.00" font-size="82" fill="#000" transform="matrix(1 0 0 1.040 0 -0.000)">(A.U.)</text></g>
<text x="220.75" y="188.70" font-size="53" fill="#000" transform="matrix(1 0 0 1.040 0 -7.548)">N−H</text><text x="155.19" y="253.40" font-size="53" fill="#000" transform="matrix(1 0 0 1.040 0 -10.136)">S</text><text x="190.54" y="253.40" font-size="53" fill="#000" transform="matrix(1 0 0 0.983 0 4.308)">tretching</text><text x="197.90" y="318.10" font-size="53" fill="#000" transform="matrix(1 0 0 1.040 0 -12.724)">(3300)</text>
<text x="741.27" y="123.90" font-size="53" fill="#000" transform="matrix(1 0 0 1.040 0 -4.956)">C=O</text><text x="677.19" y="188.60" font-size="53" fill="#000" transform="matrix(1 0 0 1.040 0 -7.544)">S</text><text x="712.54" y="188.60" font-size="53" fill="#000" transform="matrix(1 0 0 0.983 0 3.206)">tretching</text><text x="709.60" y="253.30" font-size="53" fill="#000" transform="matrix(1 0 0 0.983 0 4.306)">amide </text><text x="868.68" y="253.30" font-size="53" fill="#000" transform="matrix(1 0 0 1.040 0 -10.132)">I</text><text x="719.90" y="318.00" font-size="53" fill="#000" transform="matrix(1 0 0 1.040 0 -12.720)">(</text><text x="737.55" y="318.00" font-size="53" fill="#000" transform="matrix(1 0 0 1.040 0 -12.720)" clip-path="url(#c1_3)">1</text><text x="767.02" y="318.00" font-size="53" fill="#000" transform="matrix(1 0 0 1.040 0 -12.720)">640)</text>
<text x="1071.75" y="59.00" font-size="53" fill="#000" transform="matrix(1 0 0 1.040 0 -2.360)">C−N</text><text x="1006.19" y="123.75" font-size="53" fill="#000" transform="matrix(1 0 0 1.040 0 -4.950)">S</text><text x="1041.54" y="123.75" font-size="53" fill="#000" transform="matrix(1 0 0 0.983 0 2.104)">tretching</text><text x="1071.75" y="188.50" font-size="53" fill="#000" transform="matrix(1 0 0 1.040 0 -7.540)">N−H</text><text x="1028.25" y="253.25" font-size="53" fill="#000" transform="matrix(1 0 0 1.040 0 -10.130)">B</text><text x="1063.60" y="253.25" font-size="53" fill="#000" transform="matrix(1 0 0 0.983 0 4.305)">ending</text><text x="1048.90" y="318.00" font-size="53" fill="#000" transform="matrix(1 0 0 1.040 0 -12.720)">(</text><text x="1066.55" y="318.00" font-size="53" fill="#000" transform="matrix(1 0 0 1.040 0 -12.720)" clip-path="url(#c1_4)">1</text><text x="1096.02" y="318.00" font-size="53" fill="#000" transform="matrix(1 0 0 1.040 0 -12.720)">544)</text>
<text x="1369.71" y="188.70" font-size="53" fill="#000" transform="matrix(1 0 0 1.040 0 -7.548)">CH</text><text x="1446.26" y="198.70" font-size="36" fill="#000" transform="matrix(1 0 0 1.040 0 -7.948)">2</text><text x="1295.76" y="253.40" font-size="53" fill="#000" transform="matrix(1 0 0 1.040 0 -10.136)">S</text><text x="1331.11" y="253.40" font-size="53" fill="#000" transform="matrix(1 0 0 0.983 0 4.308)">cissoring</text><text x="1341.40" y="318.10" font-size="53" fill="#000" transform="matrix(1 0 0 1.040 0 -12.724)">(</text><text x="1359.05" y="318.10" font-size="53" fill="#000" transform="matrix(1 0 0 1.040 0 -12.724)" clip-path="url(#c1_5)">1</text><text x="1388.52" y="318.10" font-size="53" fill="#000" transform="matrix(1 0 0 1.040 0 -12.724)">465)</text>
<text x="1637.71" y="186.30" font-size="53" fill="#000" transform="matrix(1 0 0 1.040 0 -7.452)">CH</text><text x="1714.26" y="196.30" font-size="36" fill="#000" transform="matrix(1 0 0 1.040 0 -7.852)">2</text><text x="1581.41" y="251.00" font-size="53" fill="#000" transform="matrix(1 0 0 1.040 0 -10.040)">W</text><text x="1631.43" y="251.00" font-size="53" fill="#000" transform="matrix(1 0 0 0.983 0 4.267)">agging</text><text x="1609.40" y="315.70" font-size="53" fill="#000" transform="matrix(1 0 0 1.040 0 -12.628)">(</text><text x="1627.05" y="315.70" font-size="53" fill="#000" transform="matrix(1 0 0 1.040 0 -12.628)" clip-path="url(#c1_6)">1</text><text x="1656.52" y="315.70" font-size="53" fill="#000" transform="matrix(1 0 0 1.040 0 -12.628)">265)</text>
<line x1="891.5" y1="339.7" x2="1294.7" y2="400.3" stroke="#000" stroke-width="4.2"/><polygon points="1311.5,402.8 1291.4,408.9 1294.0,391.1" fill="#000"/>
<line x1="1229.0" y1="328.2" x2="1376.5" y2="386.8" stroke="#000" stroke-width="4.2"/><polygon points="1392.3,393.1 1371.3,394.4 1378.0,377.7" fill="#000"/>
<line x1="1447.7" y1="337.0" x2="1441.8" y2="377.5" stroke="#000" stroke-width="4.2"/><polygon points="1439.3,394.3 1433.2,374.2 1451.0,376.8" fill="#000"/>
<line x1="1639.8" y1="334.6" x2="1579.1" y2="382.6" stroke="#000" stroke-width="4.2"/><polygon points="1565.8,393.1 1575.1,374.3 1586.3,388.4" fill="#000"/>
<text x="824.92" y="570.60" font-size="67" fill="#000" transform="matrix(1 0 0 0.983 0 9.700)" letter-spacing="0.50">p</text><text x="862.68" y="570.60" font-size="67" fill="#000" transform="matrix(1 0 0 1.040 0 -22.824)" letter-spacing="0.50">−PA</text>
<text x="827.50" y="803.30" font-size="67" fill="#575757" transform="matrix(1 0 0 0.983 0 13.656)" letter-spacing="0.50">p</text><text x="865.26" y="803.30" font-size="67" fill="#575757" transform="matrix(1 0 0 1.040 0 -32.132)" letter-spacing="0.50">−PF</text>
<text x="788.74" y="1025.90" font-size="67" fill="#e8b30a" transform="matrix(1 0 0 0.983 0 17.440)" letter-spacing="1.10">mr</text><text x="869.06" y="1025.90" font-size="67" fill="#e8b30a" transform="matrix(1 0 0 1.040 0 -41.036)" letter-spacing="1.10">−PA</text>
<text x="804.44" y="1206.50" font-size="67" fill="#18a4dd" transform="matrix(1 0 0 0.983 0 20.511)" letter-spacing="1.20">cr</text><text x="862.65" y="1206.50" font-size="67" fill="#18a4dd" transform="matrix(1 0 0 1.040 0 -48.260)" letter-spacing="1.20">−PA</text>
</g>
<defs><clipPath id="c1_0" clipPathUnits="userSpaceOnUse"><path d="M1337.10,1399.80 H1381.95 V1443.32 H1365.21 V1450.93 H1359.20 V1443.32 H1337.10 Z"/></clipPath><clipPath id="c1_1" clipPathUnits="userSpaceOnUse"><path d="M1655.06,1399.80 H1699.91 V1443.32 H1683.17 V1450.93 H1677.16 V1443.32 H1655.06 Z"/></clipPath><clipPath id="c1_2" clipPathUnits="userSpaceOnUse"><path d="M1258.30,1476.98 H1296.11 V1512.62 H1282.33 V1519.09 H1277.38 V1512.62 H1258.30 Z"/></clipPath><clipPath id="c1_3" clipPathUnits="userSpaceOnUse"><path d="M732.55,279.18 H768.60 V312.84 H755.56 V319.04 H750.88 V312.84 H732.55 Z"/></clipPath><clipPath id="c1_4" clipPathUnits="userSpaceOnUse"><path d="M1061.55,279.18 H1097.60 V312.84 H1084.56 V319.04 H1079.88 V312.84 H1061.55 Z"/></clipPath><clipPath id="c1_5" clipPathUnits="userSpaceOnUse"><path d="M1354.05,279.28 H1390.10 V312.94 H1377.06 V319.14 H1372.38 V312.94 H1354.05 Z"/></clipPath><clipPath id="c1_6" clipPathUnits="userSpaceOnUse"><path d="M1622.05,276.88 H1658.10 V310.54 H1645.06 V316.74 H1640.38 V310.54 H1622.05 Z"/></clipPath></defs>
</svg></body></html>
